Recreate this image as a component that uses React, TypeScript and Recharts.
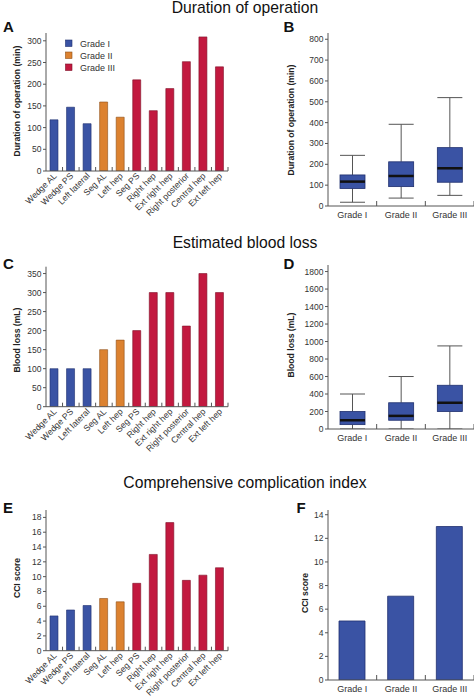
import React from "react";
import { BarChart, Bar, XAxis, YAxis, Cell } from "recharts";

const procedures = [
  "Wedge AL",
  "Wedge PS",
  "Left lateral",
  "Seg AL",
  "Left hep",
  "Seg PS",
  "Right hep",
  "Ext right hep",
  "Right posterior",
  "Central hep",
  "Ext left hep",
];
const procedureGrade = [0, 0, 0, 1, 1, 2, 2, 2, 2, 2, 2];
const durationMin = [118, 147, 109, 159, 124, 210, 139, 190, 252, 309, 240];
const bloodLossMl = [100, 100, 100, 150, 175, 200, 300, 300, 212, 350, 300];
const cciScore = [4.7, 5.5, 6.1, 7.05, 6.6, 9.1, 13.0, 17.3, 9.5, 10.2, 11.2];

const grades = ["Grade I", "Grade II", "Grade III"];
const gradeColors = ["#3a53a4", "#dc8230", "#c2193f"];
const gradeEdges = ["#1f2f6e", "#8e4f17", "#7d0f27"];

// box plots per grade: min, q1, median, q3, max
const durMin = [18, 38, 51];
const durQ1 = [84, 93, 114];
const durMed = [117, 144, 181];
const durQ3 = [149, 212, 280];
const durMax = [243, 392, 520];

const bloodMin = [0, 0, 0];
const bloodQ1 = [50, 100, 200];
const bloodMed = [100, 150, 300];
const bloodQ3 = [200, 300, 500];
const bloodMax = [400, 600, 950];

const cciByGrade = [5.0, 7.1, 13.0];

const durTicks = [0, 50, 100, 150, 200, 250, 300];
const bloodTicks = [0, 50, 100, 150, 200, 250, 300, 350];
const cciTicks = [0, 2, 4, 6, 8, 10, 12, 14, 16, 18];
const durBoxTicks = [0, 100, 200, 300, 400, 500, 600, 700, 800];
const bloodBoxTicks = [0, 200, 400, 600, 800, 1000, 1200, 1400, 1600, 1800];
const cciGradeTicks = [0, 2, 4, 6, 8, 10, 12, 14];

const AXIS = "#555";
const TEXT = "#333";
const FONT = "'Liberation Sans', Arial, sans-serif";

function ProcTick(props: any) {
  const { x, y, payload, half } = props;
  return (
    <g>
      <line x1={x + half} x2={x + half} y1={y} y2={y - 4} stroke={AXIS} strokeWidth={1} />
      <text
        transform={`translate(${x + 3},${y + 5.5}) rotate(-45)`}
        textAnchor="end"
        fontSize={8.7}
        fill={TEXT}
      >
        {payload.value}
      </text>
    </g>
  );
}

function GradeTick(props: any) {
  const { x, y, payload, half } = props;
  return (
    <g>
      <line x1={x + half} x2={x + half} y1={y} y2={y - 5} stroke={AXIS} strokeWidth={1} />
      <text x={x} y={y + 11.5} textAnchor="middle" fontSize={9} fill={TEXT}>
        {payload.value}
      </text>
    </g>
  );
}

function BoxShape(props: any) {
  const { x, y, width, height, payload } = props;
  const { min, q1, med, q3, max } = payload;
  const top = Math.min(y, y + height);
  const h = Math.abs(height);
  const py = (v: number) => top + (h * (max - v)) / (max - min);
  const cx = x + width / 2;
  return (
    <g>
      <line x1={cx} x2={cx} y1={py(max)} y2={py(q3)} stroke="#555" />
      <line x1={cx} x2={cx} y1={py(q1)} y2={py(min)} stroke="#555" />
      <line x1={x} x2={x + width} y1={py(max)} y2={py(max)} stroke="#555" />
      <line x1={x} x2={x + width} y1={py(min)} y2={py(min)} stroke="#555" />
      <rect
        x={x}
        y={py(q3)}
        width={width}
        height={py(q1) - py(q3)}
        fill={gradeColors[0]}
        stroke={gradeEdges[0]}
        strokeWidth={0.8}
      />
      <line x1={x} x2={x + width} y1={py(med)} y2={py(med)} stroke="#111" strokeWidth={2.5} />
    </g>
  );
}

const yAxisProps = {
  tickSize: 3,
  tickMargin: 1.5,
  axisLine: { stroke: AXIS },
  tickLine: { stroke: AXIS },
  tick: { fontSize: 8.5, fill: TEXT },
  allowDataOverflow: true,
  interval: 0 as const,
};

function ProcedureChart({ values, top, height, plotTop, plotBottom, yMax, yTicks }: any) {
  const data = procedures.map((name, i) => ({ name, grade: procedureGrade[i], value: values[i] }));
  const half = (228 - 46) / procedures.length / 2;
  return (
    <div style={{ position: "absolute", left: 0, top, width: 237, height }}>
      <BarChart
        width={237}
        height={height}
        data={data}
        margin={{ top: plotTop, right: 9, bottom: 0, left: 0 }}
      >
        <XAxis
          dataKey="name"
          interval={0}
          height={height - plotBottom}
          tickSize={0}
          tickMargin={0}
          tickLine={false}
          axisLine={{ stroke: AXIS }}
          tick={(p: any) => <ProcTick {...p} half={half} />}
        />
        <YAxis width={46} domain={[0, yMax]} ticks={yTicks} {...yAxisProps} />
        <Bar dataKey="value" barSize={8} isAnimationActive={false}>
          {data.map((d, i) => (
            <Cell key={i} fill={gradeColors[d.grade]} stroke={gradeEdges[d.grade]} strokeWidth={0.6} />
          ))}
        </Bar>
      </BarChart>
    </div>
  );
}

function GradeChart({ top, height, plotTop, plotBottom, yMax, yTicks, children, data }: any) {
  const half = (474 - 328) / grades.length / 2;
  return (
    <div style={{ position: "absolute", left: 237, top, width: 237, height }}>
      <BarChart
        width={237}
        height={height}
        data={data}
        margin={{ top: plotTop, right: 0, bottom: 0, left: 61 }}
      >
        <XAxis
          dataKey="name"
          interval={0}
          height={height - plotBottom}
          tickSize={0}
          tickMargin={0}
          tickLine={false}
          axisLine={{ stroke: AXIS }}
          tick={(p: any) => <GradeTick {...p} half={half} />}
        />
        <YAxis width={30} domain={[0, yMax]} ticks={yTicks} {...yAxisProps} />
        {children}
      </BarChart>
    </div>
  );
}

function Overlay() {
  const title = { fontSize: 15.7, fill: "#111", textAnchor: "middle" as const };
  const letter = { fontSize: 15, fontWeight: 700, fill: "#111" };
  const ylab = { fontSize: 8.6, fontWeight: 700, fill: "#222", textAnchor: "middle" as const };
  const ylabels: [string, number, number][] = [
    ["Duration of operation (min)", 19.5, 101],
    ["Duration of operation (min)", 294, 120],
    ["Blood loss (mL)", 19.5, 340],
    ["Blood loss (mL)", 294, 345],
    ["CCI score", 19.5, 578],
    ["CCI score", 308, 593],
  ];
  return (
    <svg
      width={474}
      height={699}
      style={{ position: "absolute", left: 0, top: 0, pointerEvents: "none" }}
    >
      <text x={245} y={12.5} {...title}>Duration of operation</text>
      <text x={245} y={248} {...title}>Estimated blood loss</text>
      <text x={245} y={488} {...title}>Comprehensive complication index</text>
      <text x={3} y={32} {...letter}>A</text>
      <text x={283.5} y={32} {...letter}>B</text>
      <text x={3} y={269} {...letter}>C</text>
      <text x={283.5} y={269} {...letter}>D</text>
      <text x={3} y={513} {...letter}>E</text>
      <text x={296.5} y={513} {...letter}>F</text>
      {ylabels.map(([t, x, y], i) => (
        <text key={i} transform={`translate(${x},${y}) rotate(-90)`} {...ylab}>
          {t}
        </text>
      ))}
      {grades.map((g, i) => (
        <g key={g}>
          <rect
            x={65.5}
            y={40 + i * 12}
            width={6.5}
            height={6.5}
            fill={gradeColors[i]}
            stroke={gradeEdges[i]}
            strokeWidth={0.6}
          />
          <text x={80} y={46.5 + i * 12} fontSize={9} fill={TEXT}>
            {g}
          </text>
        </g>
      ))}
    </svg>
  );
}

export default function App() {
  const durBox = grades.map((name, i) => ({
    name,
    min: durMin[i],
    q1: durQ1[i],
    med: durMed[i],
    q3: durQ3[i],
    max: durMax[i],
  }));
  const bloodBox = grades.map((name, i) => ({
    name,
    min: bloodMin[i],
    q1: bloodQ1[i],
    med: bloodMed[i],
    q3: bloodQ3[i],
    max: bloodMax[i],
  }));
  const cciGrade = grades.map((name, i) => ({ name, value: cciByGrade[i] }));
  const range = (d: any) => [d.min, d.max];

  return (
    <div
      style={{
        position: "absolute",
        left: 0,
        top: 0,
        width: 474,
        height: 699,
        background: "#fff",
        fontFamily: FONT,
        overflow: "hidden",
      }}
    >
      <ProcedureChart values={durationMin} top={0} height={230} plotTop={33} plotBottom={171} yMax={318} yTicks={durTicks} />
      <ProcedureChart values={bloodLossMl} top={230} height={230} plotTop={36.7} plotBottom={176.7} yMax={368} yTicks={bloodTicks} />
      <ProcedureChart values={cciScore} top={460} height={239} plotTop={50} plotBottom={190.7} yMax={19} yTicks={cciTicks} />

      <GradeChart data={durBox} top={0} height={230} plotTop={33} plotBottom={206} yMax={830} yTicks={durBoxTicks}>
        <Bar dataKey={range} barSize={25} shape={<BoxShape />} isAnimationActive={false} />
      </GradeChart>
      <GradeChart data={bloodBox} top={230} height={230} plotTop={35} plotBottom={199} yMax={1875} yTicks={bloodBoxTicks}>
        <Bar dataKey={range} barSize={25} shape={<BoxShape />} isAnimationActive={false} />
      </GradeChart>
      <GradeChart data={cciGrade} top={460} height={239} plotTop={50} plotBottom={220} yMax={14.4} yTicks={cciGradeTicks}>
        <Bar
          dataKey="value"
          barSize={26}
          fill={gradeColors[0]}
          stroke={gradeEdges[0]}
          strokeWidth={0.8}
          isAnimationActive={false}
        />
      </GradeChart>
      <Overlay />
    </div>
  );
}
